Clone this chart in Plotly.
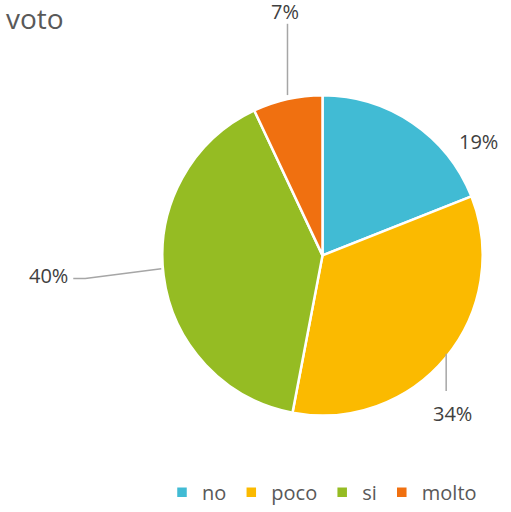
import math
import plotly.graph_objects as go

# ---- data ----
categories = ["no", "poco", "si", "molto"]
values = [19, 34, 40, 7]
pct_labels = ["19%", "34%", "40%", "7%"]
colors = ["#41BBD4", "#FBBA00", "#95BC23", "#F07010"]
title = "voto"

# ---- layout helpers (window pixels) ----
W, H = 511, 512
cx, cy, R = 322.5, 256.0, 160.5

def px(x):
    return x / W

def py(y):
    return 1 - y / H

# label style: offsets relative to the slice mid-point on the rim
label_style = {
    "no":    dict(line=None, text=(66, 22)),
    "poco":  dict(line=[(0, 4), (0, 42)], text=(6, 65)),
    "si":    dict(line=[(-2, -1), (-78, 9), (-90, 9)], text=(-115, 6)),
    "molto": dict(line=[(0, -2), (0, -75)], text=(-2, -88)),
}

# pie domain (slightly enlarged / lowered to compensate plotly's inner padding)
Rd = R + 3.5
cyd = cy + 5.5
fig = go.Figure(go.Pie(
    labels=categories,
    values=values,
    sort=False,
    direction="clockwise",
    rotation=0,
    marker=dict(colors=colors, line=dict(color="white", width=2.5)),
    textinfo="none",
    domain=dict(x=[px(cx - Rd), px(cx + Rd)], y=[py(cyd + Rd), py(cyd - Rd)]),
    showlegend=True,
))

total = sum(values)
cum = 0
shapes = []
annotations = []
for cat, v, lab in zip(categories, values, pct_labels):
    mid = (cum + v / 2) / total * 2 * math.pi
    cum += v
    rx = cx + R * math.sin(mid)
    ry = cy - R * math.cos(mid)
    st = label_style[cat]
    if st["line"]:
        pts = [(rx + dx, ry + dy) for dx, dy in st["line"]]
        path = "M " + " L ".join(f"{px(x)},{py(y)}" for x, y in pts)
        shapes.append(dict(type="path", xref="paper", yref="paper", path=path,
                           line=dict(color="#A6A6A6", width=1.5)))
    tx, ty = rx + st["text"][0], ry + st["text"][1]
    annotations.append(dict(x=px(tx), y=py(ty), xref="paper", yref="paper",
                            text=lab, showarrow=False, xanchor="center", yanchor="middle",
                            font=dict(size=20, color="#404040", family="Open Sans")))

annotations.append(dict(x=px(4), y=py(18), xref="paper", yref="paper", text=title,
                        showarrow=False, xanchor="left", yanchor="middle",
                        font=dict(size=28, color="#595959", family="Open Sans")))

fig.update_layout(
    width=W, height=H,
    margin=dict(l=0, r=0, t=0, b=0),
    paper_bgcolor="white",
    plot_bgcolor="white",
    shapes=shapes,
    annotations=annotations,
    legend=dict(orientation="h", x=px(322), xanchor="center", y=py(504), yanchor="middle",
                font=dict(size=20, color="#595959", family="Open Sans"),
                itemwidth=30, traceorder="normal"),
)

fig.write_html(
    "out.html",
    config={"displayModeBar": False},
    post_script="document.body.style.margin='0';document.body.style.overflow='hidden';",
)
